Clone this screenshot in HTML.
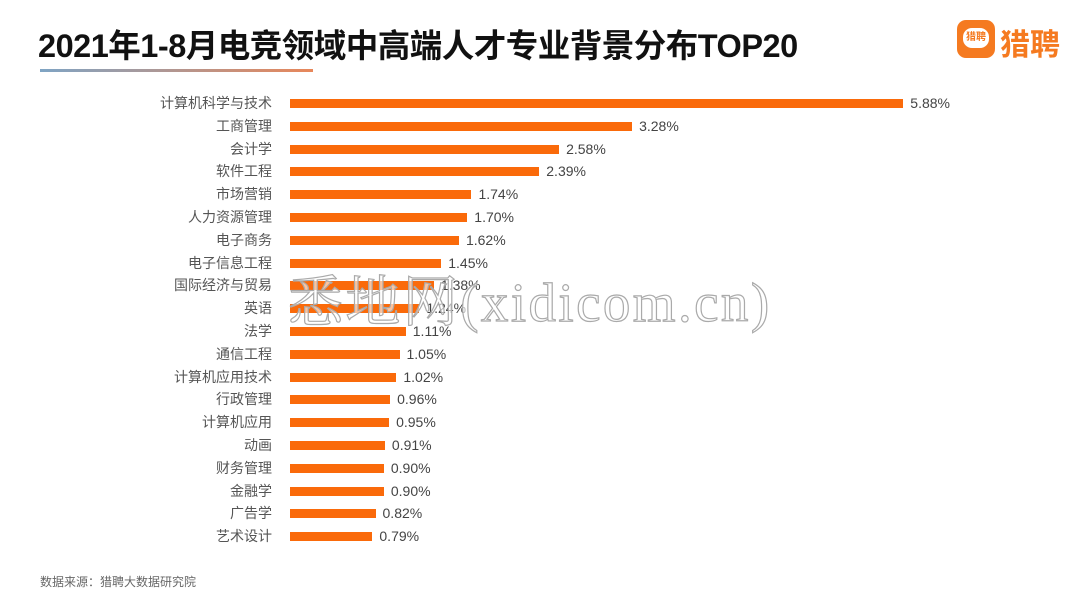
<!DOCTYPE html>
<html><head><meta charset="utf-8"><style>
body{margin:0;width:1080px;height:608px;background:#fff;position:relative;overflow:hidden;font-family:"Liberation Sans","Noto Sans CJK SC",sans-serif;}
.title{position:absolute;left:38px;top:20px;font-size:32.5px;font-weight:bold;color:#111;letter-spacing:-0.5px;white-space:nowrap}
.ul{position:absolute;left:40px;top:69px;width:273px;height:3px;background:linear-gradient(90deg,#7fa4c4,#e8875a);}
.logo{position:absolute;left:957px;top:20px;width:38px;height:38px;background:#f57a20;border-radius:9px;}
.logo i{position:absolute;left:6px;top:8px;width:26px;height:20px;background:#fff;border-radius:9px;font-style:normal;color:#f57a20;font-size:10px;line-height:20px;text-align:center;font-weight:bold}
.logot{position:absolute;left:1000px;top:20px;font-size:30px;color:#f57a20;font-weight:bold;}
.row{position:absolute;left:0;height:20px;width:1080px;}
.lab{position:absolute;right:808px;top:0;font-size:14px;color:#555;line-height:20px;white-space:nowrap}
.bar{position:absolute;left:290px;top:6px;height:9px;background:#fa6a0a;}
.val{position:absolute;top:0;font-size:14px;color:#444;line-height:20px;}
.src{position:absolute;left:40px;top:573px;font-size:12px;color:#666;}
.wm{position:absolute;left:288px;top:258px;font-size:55px;font-family:"Liberation Serif","Noto Serif CJK SC",serif;color:rgba(255,255,255,0.6);-webkit-text-stroke:1.2px #aaa;letter-spacing:2.4px;white-space:nowrap}
</style></head><body>
<div class="title">2021年1-8月电竞领域中高端人才专业背景分布TOP20</div>
<div class="ul"></div>
<div class="logo"><i>猎聘</i></div><div class="logot">猎聘</div>
<div id="c"></div>
<div class="src">数据来源：猎聘大数据研究院</div>
<div class="wm">悉地网(xidicom.cn)</div>
<script>
var d=[["计算机科学与技术",5.88],["工商管理",3.28],["会计学",2.58],["软件工程",2.39],["市场营销",1.74],["人力资源管理",1.70],["电子商务",1.62],["电子信息工程",1.45],["国际经济与贸易",1.38],["英语",1.24],["法学",1.11],["通信工程",1.05],["计算机应用技术",1.02],["行政管理",0.96],["计算机应用",0.95],["动画",0.91],["财务管理",0.90],["金融学",0.90],["广告学",0.82],["艺术设计",0.79]];
var h="";d.forEach(function(r,i){var y=93+i*22.8,w=r[1]*104.3;
h+='<div class="row" style="top:'+y+'px"><div class="lab">'+r[0]+'</div><div class="bar" style="width:'+w+'px"></div><div class="val" style="left:'+(290+w+7)+'px">'+r[1].toFixed(2)+'%</div></div>';});
document.getElementById("c").innerHTML=h;
</script>
</body></html>
